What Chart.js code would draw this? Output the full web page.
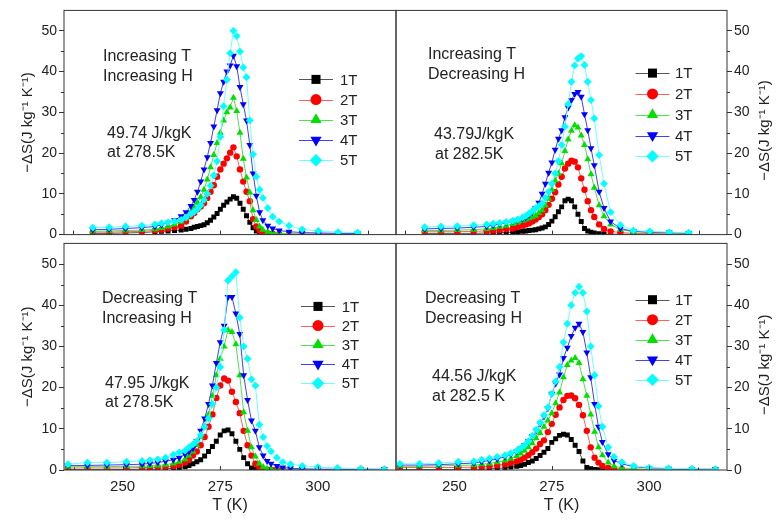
<!DOCTYPE html>
<html>
<head>
<meta charset="utf-8">
<script src="https://cdn.jsdelivr.net/npm/chart.js@4.4.1/dist/chart.umd.min.js"></script>
<style>
  html, body { margin: 0; padding: 0; background: #fff; }
  body { width: 777px; height: 529px; position: relative; overflow: hidden; }
  canvas { position: absolute; }
</style>
</head>
<body>
<canvas id="tl" width="400" height="245" style="left:0px;top:0px"></canvas>
<canvas id="tr" width="385" height="245" style="left:392px;top:0px"></canvas>
<canvas id="bl" width="400" height="296" style="left:0px;top:233px"></canvas>
<canvas id="br" width="385" height="296" style="left:392px;top:233px"></canvas>
<script>
// temperatures (K), same grid for every panel
const temps = [236, 241, 246, 251, 255, 257, 259, 261, 263, 264.5, 266, 267, 268, 269, 270, 271, 272, 273, 274, 275,
  276, 277, 278, 279, 280, 281, 282, 283, 284, 285, 286, 287, 288, 289.5, 291, 293, 296, 300, 305, 311, 317];

const fieldLabels = ['1T', '2T', '3T', '4T', '5T'];
const yTickValues = [0, 10, 20, 30, 40, 50];
const yMinorValues = [5, 15, 25, 35, 45];
const bottomTickT = [250, 275, 300];
const bottomMinorT = [237.5, 262.5, 287.5, 312.5];
const topTickT = [230, 275, 320];

// -dS values, Increasing T / Increasing H
const incInc1T = [0.3,0.3,0.4,0.5,0.7, 0.8,0.9,1.0,1.1,1.3, 1.5,1.8,2.0,2.2,2.4, 2.9,3.5,4.3,5.2,6.2, 7.2,8.0,8.7,9.3,8.9, 7.7,6.2,4.6,3.0,1.7, 0.9,0.4,0.2,0.1,0.1, 0.1,0.1,0.1,0.1,0.1,0.1];
const incInc2T = [0.6,0.6,0.7,0.8,1.0, 1.2,1.5,1.8,2.2,3.2, 4.5,5.3,6.2,6.9,7.7, 9.0,10.5,12.1,14.2,16.0, 17.4,18.7,20.1,21.4,19.2, 16.0,13.0,10.5,8.2,3.8, 2.0,1.0,0.5,0.3,0.2, 0.1,0.1,0.1,0.1,0.1,0.1];
const incInc3T = [0.8,0.9,1.0,1.1,1.3, 1.6,2.0,2.5,3.2,4.0, 5.5,6.5,7.8,9.2,11.0, 13.5,16.5,19.5,22.5,25.0, 28.0,30.0,31.2,33.6,30.3, 25.0,18.6,14.0,10.3,6.0, 3.6,2.0,1.2,0.7,0.4, 0.3,0.2,0.1,0.1,0.1,0.1];
const incInc4T = [1.2,1.3,1.5,1.7,2.0, 2.4,2.9,3.5,4.5,5.5, 7.0,8.5,10.5,13.0,16.0, 19.0,22.5,26.5,30.5,34.7, 37.5,40.0,41.5,43.9,41.3, 36.2,32.0,28.0,22.0,15.0, 9.5,5.5,3.5,2.2,1.5, 1.0,0.7,0.5,0.4,0.3,0.3];
const incInc5T = [1.7,1.8,2.0,2.2,2.5, 2.8,3.0,3.3,3.6,4.2, 5.0,5.6,6.3,7.2,8.5, 10.0,12.0,14.5,18.0,24.0, 31.5,38.0,44.5,50.0,48.7, 44.9,41.0,38.6,28.0,19.7, 14.2,11.0,9.0,6.5,4.4, 3.2,2.2,1.3,0.9,0.6,0.5];

// Increasing T / Decreasing H
const incDec1T = [0.3,0.3,0.3,0.3,0.4, 0.4,0.5,0.5,0.6,0.7, 0.8,0.9,1.0,1.1,1.2, 1.4,1.6,1.9,2.5,3.3, 4.4,5.6,6.8,8.3,8.7, 8.3,6.8,5.0,3.2,1.5, 0.9,0.6,0.4,0.2,0.1, 0.1,0.1,0.1,0.1,0.1,0.1];
const incDec2T = [0.7,0.7,0.7,0.8,0.9, 1.0,1.1,1.3,1.5,1.8, 2.2,2.5,2.8,3.2,3.7, 4.3,5.0,6.0,7.3,8.8, 10.4,12.3,14.2,16.2,17.4, 18.1,17.9,16.5,13.8,11.0, 8.2,6.0,4.3,2.5,1.4, 0.8,0.5,0.3,0.2,0.2,0.1];
const incDec3T = [1.0,1.0,1.1,1.2,1.4, 1.6,1.9,2.2,2.6,3.0, 3.4,3.7,4.0,4.3,4.6, 5.3,6.0,7.2,8.8,11.0, 13.3,15.0,17.5,20.5,23.3, 25.5,26.8,26.3,24.3,22.0, 18.5,14.8,11.5,7.2,4.5, 2.5,1.2,0.7,0.5,0.4,0.3];
const incDec4T = [1.4,1.5,1.6,1.8,2.0, 2.3,2.6,2.9,3.2,3.5, 3.8,4.2,4.8,5.5,6.5, 7.8,10.0,12.5,15.2,17.7, 20.8,23.5,25.6,28.8,31.2, 33.0,34.5,35.0,33.8,29.5, 25.6,21.2,17.0,10.5,6.5, 3.2,1.5,0.8,0.6,0.5,0.4];
const incDec5T = [1.8,2.0,2.1,2.3,2.5, 2.7,2.9,3.1,3.4,3.7, 4.2,4.6,5.2,5.8,6.5, 7.0,7.6,9.0,10.5,12.5, 15.0,18.0,22.0,26.5,32.0, 37.5,41.5,43.2,43.8,41.6, 37.5,33.0,28.5,19.5,12.5, 5.5,2.3,1.0,0.8,0.6,0.5];

// Decreasing T / Increasing H
const decInc1T = [0.1,0.1,0.1,0.1,0.2, 0.2,0.2,0.3,0.4,0.6, 0.8,1.1,1.5,2.0,2.5, 3.4,4.5,5.7,7.0,8.5, 9.5,9.7,8.8,7.0,5.0, 3.0,1.5,0.5,0.1,0.05, 0.05,0.05,0.05,0.05,0.05, 0.05,0.05,0.05,0.05,0.05,0.05];
const decInc2T = [0.5,0.5,0.5,0.5,0.6, 0.6,0.7,0.8,1.0,1.3, 1.8,2.5,3.5,4.5,6.0, 8.0,10.5,13.5,17.5,20.5, 22.2,21.7,19.0,16.5,13.8, 9.5,6.0,3.5,1.5,0.6, 0.2,0.1,0.1,0.1,0.1, 0.1,0.1,0.1,0.1,0.1,0.1];
const decInc3T = [0.8,0.8,0.8,0.9,0.9, 1.0,1.1,1.3,1.6,2.0, 2.6,3.5,4.5,6.0,8.0, 10.5,13.5,18.0,23.0,27.0, 30.0,34.0,33.5,30.5,23.0, 14.0,9.5,5.5,3.3,1.6, 0.7,0.3,0.2,0.1,0.1, 0.1,0.1,0.1,0.1,0.1,0.1];
const decInc4T = [1.1,1.1,1.2,1.3,1.4, 1.6,1.8,2.1,2.5,3.0, 3.8,4.5,5.3,7.0,9.5, 12.5,16.0,20.5,26.0,31.0, 35.0,42.0,42.0,38.0,33.0, 23.0,17.0,12.0,9.5,5.5, 3.5,2.2,1.5,1.0,0.6, 0.4,0.3,0.2,0.2,0.2,0.2];
const decInc5T = [1.4,1.8,1.8,2.0,2.2, 2.4,2.6,3.0,3.7,4.3, 4.7,5.5,6.2,7.0,8.5, 10.5,12.5,16.0,20.0,25.0, 34.0,46.0,47.0,48.0,37.0, 30.0,27.0,22.0,20.5,11.0, 8.0,5.8,4.5,3.0,1.9, 1.4,1.0,0.7,0.5,0.3,0.2];

// Decreasing T / Decreasing H
const decDec1T = [0.1,0.1,0.1,0.1,0.2, 0.2,0.3,0.4,0.5,0.7, 0.9,1.1,1.4,1.8,2.2, 2.8,3.5,4.3,5.2,6.7, 7.6,8.4,8.7,8.5,7.4, 6.0,4.5,2.2,0.6,0.3, 0.1,0.05,0.05,0.05,0.05, 0.05,0.05,0.05,0.05,0.05,0.05];
const decDec2T = [0.6,0.6,0.6,0.6,0.7, 0.8,0.9,1.1,1.4,1.7, 2.1,2.5,3.0,3.6,4.3, 5.2,6.3,7.2,9.2,11.2, 13.4,15.2,17.0,18.0,18.1, 17.4,15.8,13.3,9.5,5.5, 3.0,1.8,1.0,0.5,0.3, 0.2,0.1,0.1,0.1,0.1,0.1];
const decDec3T = [0.9,0.9,1.0,1.1,1.2, 1.4,1.6,1.9,2.3,2.8, 3.4,4.0,4.7,5.5,6.5, 7.7,9.0,10.5,12.0,13.8, 16.2,18.8,22.5,25.5,26.6, 27.2,26.0,22.0,18.0,13.5, 9.3,5.5,3.6,1.8,0.9, 0.5,0.3,0.2,0.1,0.1,0.1];
const decDec4T = [1.2,1.2,1.3,1.5,1.7, 2.0,2.3,2.7,3.2,3.8, 4.5,5.2,6.0,7.0,8.2, 9.6,11.2,13.0,15.0,18.5, 21.0,23.2,27.2,29.7,32.5, 34.5,35.5,33.5,28.5,22.5, 16.0,10.5,6.8,3.8,2.3, 1.5,0.8,0.5,0.3,0.2,0.2];
const decDec5T = [1.5,1.5,1.7,2.0,2.1, 2.5,2.8,3.2,3.6,4.1, 4.7,5.3,6.0,7.0,8.3, 9.8,11.5,13.3,15.2,18.5, 21.5,25.0,31.0,35.5,40.0, 43.0,44.5,43.0,38.5,30.0, 23.0,15.5,10.5,5.5,3.2, 1.9,1.0,0.6,0.4,0.3,0.2];

// look
const FONT = '"Liberation Sans", Arial, sans-serif';
const TEXT = '#222';
const markerStyle = ['rect', 'circle', 'triangle', 'triangle', 'rectRot'];
const markerRot = [0, 0, 0, 180, 0];
const markerColor = ['#000000', '#ff0000', '#00e000', '#0000ff', '#00ffff'];
const lineColor = ['#555555', '#ff6060', '#50e050', '#4040ff', '#70ffff'];
const markerRadius = [3.5, 3.2, 4, 4, 3.9];
const legendRadius = [6.4, 5.5, 6.5, 6.5, 6.2];
const yTitle = '\u2212\u0394S(J kg\u207B\u00B9 K\u207B\u00B9)';

// frame, minor ticks, legend and notes
const panelDeco = {
  id: 'panelDeco',
  afterDraw(chart, args, o) {
    const ctx = chart.ctx, a = chart.chartArea;
    const xs = chart.scales.x, ys = chart.scales.y;
    ctx.save();
    ctx.strokeStyle = '#333';
    ctx.lineWidth = 1;
    ctx.strokeRect(a.left, a.top, a.right - a.left, a.bottom - a.top);

    ctx.beginPath();
    yMinorValues.forEach(v => {
      const y = Math.round(ys.getPixelForValue(v)) + 0.5;
      if (o.right) { ctx.moveTo(a.right, y); ctx.lineTo(a.right + 3, y); }
      else { ctx.moveTo(a.left - 3, y); ctx.lineTo(a.left, y); }
    });
    o.xMajor.forEach(v => {
      const x = Math.round(xs.getPixelForValue(v)) + 0.5;
      ctx.moveTo(x, a.bottom); ctx.lineTo(x, a.bottom - 4);
    });
    (o.xMinor || []).forEach(v => {
      const x = Math.round(xs.getPixelForValue(v)) + 0.5;
      ctx.moveTo(x, a.bottom); ctx.lineTo(x, a.bottom - 2.5);
    });
    ctx.stroke();

    // legend
    ctx.font = '15px ' + FONT;
    ctx.textBaseline = 'middle';
    ctx.textAlign = 'left';
    fieldLabels.forEach((lab, i) => {
      const cx = a.left + o.legend.x, cy = a.top + o.legend.y + i * o.legend.dy;
      ctx.strokeStyle = lineColor[i];
      ctx.lineWidth = 1;
      ctx.beginPath();
      ctx.moveTo(cx - 17, Math.round(cy) + 0.5);
      ctx.lineTo(cx + 17, Math.round(cy) + 0.5);
      ctx.stroke();
      ctx.fillStyle = markerColor[i];
      Chart.helpers.drawPoint(ctx, { pointStyle: markerStyle[i], rotation: markerRot[i], radius: legendRadius[i], borderWidth: 0 }, cx, cy);
      ctx.fillStyle = TEXT;
      ctx.fillText(lab, a.left + o.legend.tx, cy + 1);
    });

    // notes
    ctx.font = '16px ' + FONT;
    o.notes.forEach(n => ctx.fillText(n.t, a.left + n.x, a.top + n.y));

    // right-hand axis title, read bottom to top
    if (o.right) {
      ctx.translate(a.right + 38, (a.top + a.bottom) / 2 + 8);
      ctx.rotate(-Math.PI / 2);
      ctx.textAlign = 'center';
      ctx.font = '15px ' + FONT;
      ctx.fillText(yTitle, 0, 0);
    }
    ctx.restore();
  }
};

function makePanel(id, series, p) {
  const datasets = series.map((vals, i) => ({
    label: fieldLabels[i],
    data: temps.map((t, k) => ({ x: t, y: vals[k] })),
    borderColor: lineColor[i],
    backgroundColor: markerColor[i],
    borderWidth: 1,
    pointStyle: markerStyle[i],
    pointRotation: markerRot[i],
    pointRadius: markerRadius[i],
    pointBorderWidth: 0,
    pointBackgroundColor: markerColor[i],
    tension: 0,
    order: 5 - i
  }));
  return new Chart(document.getElementById(id), {
    type: 'line',
    data: { datasets },
    plugins: [panelDeco],
    options: {
      responsive: false,
      animation: false,
      devicePixelRatio: 1,
      events: [],
      layout: { padding: p.padding },
      plugins: {
        legend: { display: false },
        tooltip: { enabled: false },
        panelDeco: { right: p.right, legend: p.legend, notes: p.notes, xMajor: p.xTicks, xMinor: p.xMinor }
      },
      scales: {
        x: {
          type: 'linear', position: 'bottom', min: p.xMin, max: p.xMax,
          afterBuildTicks: s => { s.ticks = p.xTicks.map(v => ({ value: v })); },
          afterFit: s => { s.height = p.xHeight; },
          grid: { drawOnChartArea: false, drawTicks: false },
          border: { display: false },
          ticks: { display: p.xLabels, padding: 8, color: TEXT, maxRotation: 0, font: { family: FONT, size: 15 } },
          title: { display: p.xLabels, text: 'T (K)', color: TEXT, font: { family: FONT, size: 16 }, padding: { top: 2, bottom: 14 } }
        },
        y: {
          type: 'linear', position: p.right ? 'right' : 'left', min: 0, max: 55,
          afterBuildTicks: s => { s.ticks = yTickValues.map(v => ({ value: v })); },
          afterFit: s => { s.width = p.yWidth; },
          grid: { drawOnChartArea: false, drawTicks: true, tickLength: 5, color: '#333' },
          border: { display: false },
          ticks: { padding: 2, color: TEXT, font: { family: FONT, size: 14 } },
          title: { display: !p.right, text: yTitle, color: TEXT, font: { family: FONT, size: 15 }, padding: { top: 19, bottom: 0 } }
        }
      }
    }
  });
}

makePanel('tl', [incInc1T, incInc2T, incInc3T, incInc4T, incInc5T], {
  padding: { top: 3, right: 4, left: 0, bottom: 0 }, right: false, yWidth: 64, xHeight: 8,
  xMin: 227.2, xMax: 328.7, xTicks: topTickT, xLabels: false,
  legend: { x: 252, y: 69, dy: 20.2, tx: 276 },
  notes: [{ t: 'Increasing T', x: 39, y: 46 }, { t: 'Increasing H', x: 39, y: 66 },
          { t: '49.74 J/kgK', x: 43, y: 123 }, { t: 'at 278.5K', x: 43, y: 142 }]
});
makePanel('tr', [incDec1T, incDec2T, incDec3T, incDec4T, incDec5T], {
  padding: { top: 3, right: 0, left: 4, bottom: 0 }, right: true, yWidth: 50, xHeight: 8,
  xMin: 227.2, xMax: 328.7, xTicks: topTickT, xLabels: false,
  legend: { x: 256.5, y: 62.7, dy: 20.8, tx: 279 },
  notes: [{ t: 'Increasing T', x: 32, y: 44 }, { t: 'Decreasing H', x: 32, y: 64 },
          { t: '43.79J/kgK', x: 38, y: 124 }, { t: 'at 282.5K', x: 39, y: 144 }]
});
makePanel('bl', [decInc1T, decInc2T, decInc3T, decInc4T, decInc5T], {
  padding: { top: 4, right: 4, left: 0, bottom: 0 }, right: false, yWidth: 64, xHeight: 59,
  xMin: 235, xMax: 320, xTicks: bottomTickT, xMinor: bottomMinorT, xLabels: true,
  legend: { x: 254, y: 63, dy: 19.2, tx: 277.7 },
  notes: [{ t: 'Decreasing T', x: 38, y: 55 }, { t: 'Increasing H', x: 38, y: 75 },
          { t: '47.95 J/kgK', x: 41, y: 140 }, { t: 'at 278.5K', x: 41, y: 159 }]
});
makePanel('br', [decDec1T, decDec2T, decDec3T, decDec4T, decDec5T], {
  padding: { top: 4, right: 0, left: 4, bottom: 0 }, right: true, yWidth: 50, xHeight: 59,
  xMin: 235, xMax: 320, xTicks: bottomTickT, xMinor: bottomMinorT, xLabels: true,
  legend: { x: 256.5, y: 56.3, dy: 20, tx: 279 },
  notes: [{ t: 'Decreasing T', x: 29, y: 55 }, { t: 'Decreasing H', x: 29, y: 75 },
          { t: '44.56 J/kgK', x: 36, y: 133 }, { t: 'at 282.5 K', x: 36, y: 153 }]
});
</script>
</body>
</html>
